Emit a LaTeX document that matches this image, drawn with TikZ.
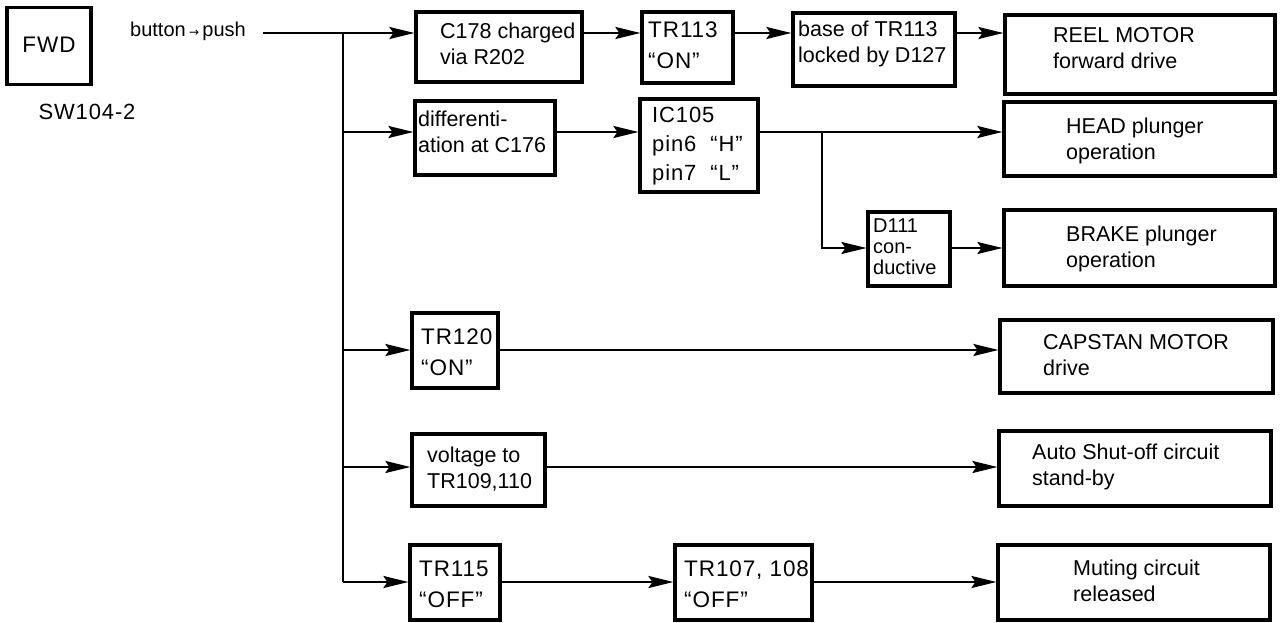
\documentclass[tikz,border=0pt]{standalone}
\usepackage{fontspec}
\setmainfont{Liberation Sans}
\newfontfamily\lblfont[LetterSpace=4]{Liberation Sans}
\newfontfamily\symfont{DejaVu Sans}
\usetikzlibrary{arrows.meta}
\newcommand\bx[9]{%
  \pgfmathsetmacro\bxw{#4-#2}\pgfmathsetmacro\bxh{#5-#3}%
  \node[box, minimum width=\bxw pt, minimum height=\bxh pt] (#1) at ({(#2+#4)/2},{(#3+#5)/2}) {};
  \node[txt, font=#8] (#1t) at (#6,#7) {#9};}
\begin{document}
\begin{tikzpicture}[x=1pt,y=-1pt,
  box/.style={draw, line width=3.2pt, rectangle, inner sep=0pt},
  txt/.style={anchor=west, align=left, inner sep=0pt},
  arr/.style={line width=2.2pt, -{Stealth[length=25pt,width=12pt,inset=4pt]}},
  wire/.style={line width=2.2pt}]
\useasboundingbox (0,0) rectangle (1284,623);
\def\mf{\fontsize{21.5}{26}\selectfont}
\def\lf{\lblfont\fontsize{22.5}{31}\selectfont}
% source
\node[box, minimum width=84pt, minimum height=77pt] (fwd) at (49,46) {};
\node[font=\lf, inner sep=0pt] (fwdt) at (49,45) {FWD};
\node[font=\lblfont\fontsize{22}{26}\selectfont, inner sep=0pt] (sw) at (87,112) {SW104-2};
\node[font=\fontsize{20}{24}\selectfont, inner sep=0pt] (btn) at (188,31) {button\,{\symfont\fontsize{12}{12}\selectfont →}\,push};
\coordinate (s) at (263,33);
\coordinate (r1) at (0,33);
\coordinate (r2) at (0,132);
\coordinate (rd) at (0,248);
\coordinate (r3) at (0,350);
\coordinate (r4) at (0,467);
\coordinate (r5) at (0,582);
\coordinate (bus) at (343,33);
\coordinate (br) at (822,132);
% row 1
\bx{c178}{416}{12}{582}{82}{440}{44}{\mf}{C178 charged\\via R202}
\bx{tr113}{642}{12}{733}{83}{648}{45}{\lf}{TR113\\“ON”}
\bx{base}{793}{13}{955}{86}{798}{44}{\mf}{base of TR113\\locked by D127}
\bx{reel}{1005}{15}{1275}{94}{1053}{48}{\mf}{REEL MOTOR\\forward drive}
% row 2
\bx{diff}{415}{101}{555}{175}{418}{132}{\mf}{differenti-\\ation at C176}
\bx{ic}{640}{99}{758}{192}{652}{146}{\lblfont\fontsize{22}{29}\selectfont}{IC105\\pin6~~“H”\\pin7~~“L”}
\bx{head}{1004}{102}{1275}{176}{1066}{141}{\mf}{HEAD plunger\\operation}
\bx{d111}{868}{212}{950}{286}{873}{247}{\fontsize{20}{21}\selectfont}{D111\\con-\\ductive}
\bx{brake}{1004}{210}{1275}{286}{1066}{249}{\mf}{BRAKE plunger\\operation}
% row 3
\bx{tr120}{412}{313}{498}{388}{421}{352}{\lf}{TR120\\“ON”}
\bx{cap}{1000}{320}{1273}{393}{1043}{355}{\mf}{CAPSTAN MOTOR\\drive}
% row 4
\bx{volt}{412}{434}{545}{506}{427}{469}{\mf}{voltage to\\TR109,110}
\bx{auto}{999}{431}{1271}{506}{1032}{467}{\mf}{Auto Shut-off circuit\\stand-by}
% row 5
\bx{tr115}{410}{545}{500}{620}{419}{584}{\lf}{TR115\\“OFF”}
\bx{tr107}{675}{545}{812}{620}{684}{584}{\lf}{TR107, 108\\“OFF”}
\bx{mute}{998}{545}{1270}{620}{1073}{581}{\mf}{Muting circuit\\released}
% connectors
\draw[arr] (s) -- (c178.west |- r1);
\draw[wire] (bus) -- (bus |- r5);
\draw[arr] (c178.east |- r1) -- (tr113.west |- r1);
\draw[arr] (tr113.east |- r1) -- (base.west |- r1);
\draw[arr] (base.east |- r1) -- (reel.west |- r1);
\draw[arr] (bus |- r2) -- (diff.west |- r2);
\draw[arr] (diff.east |- r2) -- (ic.west |- r2);
\draw[arr] (ic.east |- r2) -- (head.west |- r2);
\draw[arr] (br) |- (d111.west |- rd);
\draw[arr] (d111.east |- rd) -- (brake.west |- rd);
\draw[arr] (bus |- r3) -- (tr120.west |- r3);
\draw[arr] (tr120.east |- r3) -- (cap.west |- r3);
\draw[arr] (bus |- r4) -- (volt.west |- r4);
\draw[arr] (volt.east |- r4) -- (auto.west |- r4);
\draw[arr] (bus |- r5) -- (tr115.west |- r5);
\draw[arr] (tr115.east |- r5) -- (tr107.west |- r5);
\draw[arr] (tr107.east |- r5) -- (mute.west |- r5);
\end{tikzpicture}
\end{document}
